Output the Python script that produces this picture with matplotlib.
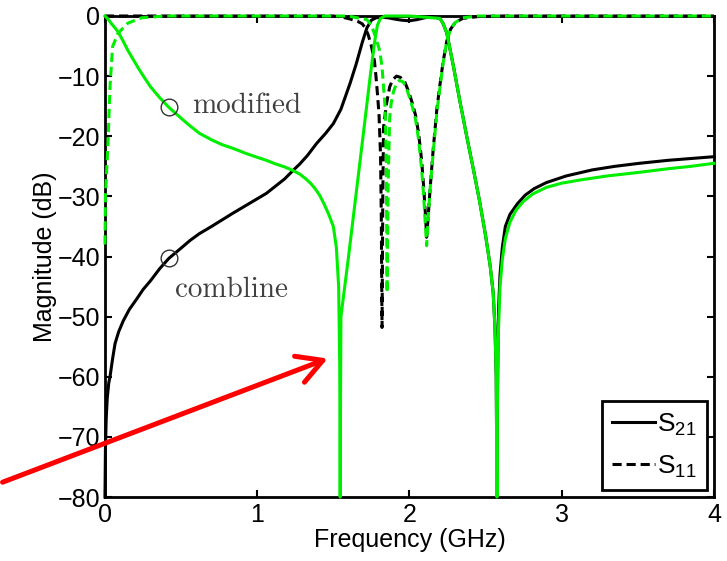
import numpy as np
import matplotlib
matplotlib.use('Agg')
import matplotlib.pyplot as plt

# values (frequency in GHz, magnitude in dB)
f_s21_comb = [0, 0.003, 0.008, 0.015, 0.025, 0.033, 0.05, 0.066, 0.09, 0.12, 0.16, 0.21, 0.25, 0.30,
              0.36, 0.42, 0.5, 0.56, 0.62, 0.7, 0.77, 0.84, 0.92, 1.0, 1.06, 1.12, 1.18, 1.235,
              1.28, 1.33, 1.39, 1.45, 1.5, 1.55, 1.61, 1.65, 1.69, 1.72, 1.75, 1.78, 1.82, 1.86,
              1.9, 1.95, 2.0, 2.05, 2.1, 2.15, 2.2, 2.22, 2.245, 2.29, 2.33, 2.38, 2.42, 2.46,
              2.5, 2.53, 2.55, 2.562, 2.57, 2.575, 2.578, 2.585, 2.595, 2.61, 2.63, 2.66, 2.71,
              2.76, 2.82, 2.9, 3.03, 3.2, 3.35, 3.51, 3.7, 3.85, 4.0]
s21_comb = [-80, -72, -67, -63.5, -61, -60, -57, -54.5, -52.5, -50.7, -48.8, -47.0, -45.5, -44.0,
            -42.0, -40.3, -38.6, -37.3, -36.2, -35.0, -33.9, -32.8, -31.6, -30.4, -29.5, -28.3,
            -27.1, -25.7, -24.6, -23.2, -21.2, -19.5, -17.9, -15.5, -11.2, -8.0, -4.4, -2.0,
            -0.7, -0.3, -0.2, -0.3, -0.5, -0.7, -0.8, -0.6, -0.3, -0.1, -0.4, -1.2, -2.8, -8.5,
            -14.0, -20.5, -25.5, -30.7, -36.5, -41.5, -46, -52, -60, -80, -62, -49, -43, -38.5,
            -35.0, -33.0, -31.2, -29.8, -28.7, -27.7, -26.6, -25.6, -25.0, -24.5, -24.0, -23.7,
            -23.4]

f_s11_comb = [0, 1.5, 1.55, 1.61, 1.66, 1.69, 1.71, 1.73, 1.75, 1.77, 1.78, 1.79, 1.80, 1.81,
              1.815, 1.82, 1.825, 1.83, 1.85, 1.87, 1.89, 1.915, 1.94, 1.97, 1.995, 2.02, 2.04,
              2.06, 2.08, 2.095, 2.105, 2.113, 2.12, 2.135, 2.155, 2.18, 2.2, 2.22, 2.245, 2.27,
              2.3, 2.35, 2.45, 2.6, 4.0]
s11_comb = [0, 0, -0.15, -0.5, -0.9, -1.3, -2.0, -3.2, -5.0, -7.5, -10.0, -13.0, -16.3, -23,
            -33, -51.8, -30, -18.5, -14.5, -11.8, -10.6, -10.0, -10.2, -11.0, -12.6, -14.6, -16.5,
            -19.5, -24, -29, -33, -36.8, -34.5, -29, -22.5, -15.5, -11.5, -7.8, -4.2, -2.2,
            -1.1, -0.4, -0.1, 0, 0]

f_s21_mod = [0, 0.02, 0.04, 0.06, 0.085, 0.12, 0.15, 0.18, 0.22, 0.26, 0.30, 0.36, 0.42, 0.5,
             0.56, 0.62, 0.7, 0.77, 0.84, 0.92, 1.0, 1.06, 1.12, 1.18, 1.235, 1.28, 1.32, 1.35,
             1.38, 1.41, 1.44, 1.47, 1.5, 1.52, 1.535, 1.542, 1.545, 1.548, 1.55, 1.6, 1.65,
             1.7, 1.74, 1.77, 1.79, 1.81, 1.84, 2.0, 2.2, 2.22, 2.245, 2.29, 2.33, 2.38, 2.42,
             2.46, 2.5, 2.53, 2.55, 2.562, 2.57, 2.575, 2.578, 2.585, 2.595, 2.61, 2.63, 2.66,
             2.7, 2.75, 2.81, 2.9, 3.0, 3.14, 3.3, 3.51, 3.7, 3.85, 4.0]
s21_mod = [0, -0.5, -1.2, -1.8, -2.6, -4.2, -5.7, -7.0, -8.7, -10.3, -11.8, -13.6, -15.2, -17.0,
           -18.3, -19.5, -20.6, -21.4, -22.0, -22.8, -23.5, -24.0, -24.6, -25.1, -25.7, -26.3,
           -27.1, -27.8, -28.7, -29.8, -31.3, -33.0, -35.0, -38.5, -45, -58, -80, -60, -50,
           -40, -29.5, -19, -10.5, -4.5, -1.5, -0.4, 0, 0, -0.4, -1.2, -2.8, -8.5, -14.0,
           -20.5, -25.5, -30.7, -36.5, -41.5, -46, -52, -60, -80, -65, -52, -45, -40.5, -37.0,
           -34.3, -32.3, -30.8, -29.6, -28.5, -27.8, -27.2, -26.6, -26.0, -25.4, -25.0, -24.5]

f_s11_mod = [0, 0.003, 0.02, 0.033, 0.05, 0.085, 0.15, 0.24, 0.4, 1.6, 1.655, 1.72, 1.75, 1.775,
             1.805, 1.82, 1.83, 1.84, 1.848, 1.853, 1.86, 1.87, 1.88, 1.895, 1.915, 1.935, 1.96,
             1.98, 2.0, 2.02, 2.04, 2.06, 2.08, 2.095, 2.105, 2.113, 2.122, 2.135, 2.155, 2.18,
             2.2, 2.22, 2.245, 2.27, 2.3, 2.35, 2.45, 4.0]
s11_mod = [-38, -30, -21, -11.8, -5.1, -2.9, -1.2, -0.3, 0, 0, -0.3, -0.6, -1.5, -3.3,
           -5.8, -8.5, -11.8, -15.2, -24, -46, -28, -17, -14.5, -12.6, -11.2, -10.7, -11.0,
           -12.0, -13.5, -15.2, -17.2, -20.5, -25.5, -30.5, -35, -38.2, -34, -29, -23, -16,
           -12, -8, -4.2, -2.2, -1.1, -0.3, 0, 0]

green = '#00ee00'

plt.rcParams['font.family'] = ['Liberation Sans', 'DejaVu Sans']
plt.rcParams['mathtext.default'] = 'regular'

fig = plt.figure(figsize=(7.27, 5.61), dpi=100)
ax = fig.add_axes([0.1444, 0.114, 0.8376, 0.8575])

ax.plot(f_s21_comb, s21_comb, color='black', lw=2.2, clip_on=False, zorder=3, label='S$_{21}$')
ax.plot(f_s11_comb, s11_comb, color='black', lw=2.2, ls=(0, (3, 1.6)), clip_on=False, zorder=3,
        label='S$_{11}$')
ax.plot(f_s21_mod, s21_mod, color=green, lw=2.2, clip_on=False, zorder=3)
ax.plot(f_s11_mod, s11_mod, color=green, lw=2.2, ls=(0, (3, 1.6)), clip_on=False, zorder=3)

# markers and labels for the two designs
ax.plot([0.42, 0.42], [-15.2, -40.3], 'o', mfc='none', mec='#333333', ms=12, mew=1, zorder=4)
ax.text(0.57, -15.0, 'modified', family='cmr10', fontsize=21, color='#404040', va='center')
ax.text(0.46, -45.6, 'combline', family='cmr10', fontsize=21, color='#404040', va='center')

ax.annotate('', xy=(1.48, -56.8), xytext=(-0.69, -77.7),
            arrowprops=dict(arrowstyle='->,head_length=0.45,head_width=0.25', color='red',
                            lw=3.6, mutation_scale=40),
            annotation_clip=False, zorder=5)

ax.set_xlim(0, 4)
ax.set_ylim(-80, 0)
ax.set_xticks([0, 1, 2, 3, 4])
ax.set_yticks(np.arange(-80, 1, 10))
ax.tick_params(direction='in', top=True, right=True, length=5, width=1.5, labelsize=18)
ax.tick_params(axis='x', pad=4)
for s in ax.spines.values():
    s.set_linewidth(2)
ax.set_xlabel('Frequency (GHz)', fontsize=18, labelpad=1)
ax.set_ylabel('Magnitude (dB)', fontsize=18, labelpad=0)

leg = ax.legend(loc='lower right', fontsize=19, fancybox=False, edgecolor='black',
                framealpha=1, handlelength=1.6, handletextpad=0.1, borderpad=0.4,
                labelspacing=0.6, borderaxespad=0.25)
leg.get_frame().set_linewidth(2)

plt.savefig('out.png', dpi=100)
